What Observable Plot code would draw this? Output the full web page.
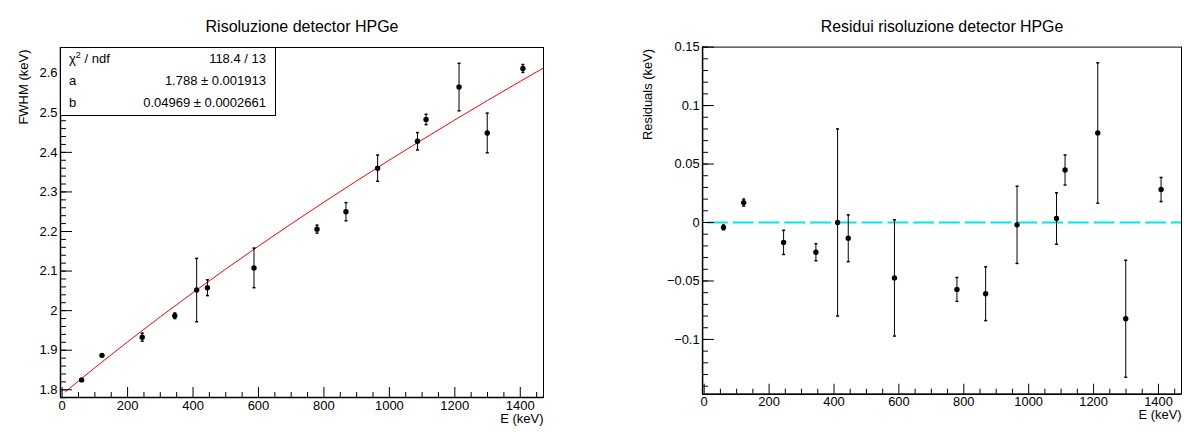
<!DOCTYPE html>
<html>
<head>
<meta charset="utf-8">
<script src="https://cdn.jsdelivr.net/npm/d3@7"></script>
<script src="https://cdn.jsdelivr.net/npm/@observablehq/plot@0.6"></script>
<style>
  html, body { margin: 0; padding: 0; overflow: hidden; background: white; }
  body { width: 1184px; height: 432px; position: relative; font-family: "Liberation Sans", Arial, sans-serif; }
  #left { position: absolute; left: 0; top: 0; }
  #right { position: absolute; left: 592px; top: 0; }
  #stats { position: absolute; left: 60px; top: 47px; width: 216px; height: 69px; border: 1px solid #000; background: #fff; font-size: 13px; color: #000; box-sizing: border-box; }
  #stats .row { position: absolute; left: 8px; right: 9px; height: 16px; line-height: 16px; }
  #stats .row .k { position: absolute; left: 0; }
  #stats .row .v { position: absolute; right: 0; }
  #stats sup { font-size: 9px; line-height: 0; vertical-align: 5px; }
</style>
</head>
<body>
<div id="left"></div>
<div id="right"></div>
<div id="stats"></div>
<script>
// ---- data ----
const energies  = [59.5, 121.8, 244.7, 344.3, 411.1, 444.0, 586.3, 778.9, 867.4, 964.1, 1085.8, 1112.1, 1212.9, 1299.1, 1408.0];
const fwhm      = [1.825, 1.887, 1.933, 1.987, 2.052, 2.058, 2.108, 2.206, 2.250, 2.360, 2.428, 2.483, 2.565, 2.449, 2.612];
const fwhmErr   = [0.002, 0.003, 0.010, 0.007, 0.080, 0.020, 0.050, 0.010, 0.023, 0.033, 0.022, 0.013, 0.060, 0.050, 0.010];
const residuals = [-0.0042, 0.017, -0.017, -0.0254, 0.0, -0.0135, -0.0474, -0.0572, -0.0609, -0.002, 0.0034, 0.0449, 0.0766, -0.0823, 0.0282];
const residErr  = [0.002, 0.003, 0.0103, 0.0073, 0.080, 0.020, 0.0497, 0.0102, 0.023, 0.033, 0.022, 0.0128, 0.060, 0.050, 0.0103];

// fit parameters (shown in the stats box): FWHM = sqrt(a^2 + b^2 E)
const fitA = 1.788, fitB = 0.04969;
const fitStats = [
  {k: "χ<sup>2</sup> / ndf", v: "118.4 / 13"},
  {k: "a", v: "1.788 ± 0.001913"},
  {k: "b", v: "0.04969 ± 0.0002661"}
];
const fitEnergies = [10, 50, 100, 150, 200, 300, 400, 500, 600, 700, 800, 900, 1000, 1100, 1200, 1300, 1400, 1470];

// ticks / labels
const xMajor = [0, 200, 400, 600, 800, 1000, 1200, 1400];
const xMinor = [50,100,150,250,300,350,450,500,550,650,700,750,850,900,950,1050,1100,1150,1250,1300,1350,1450];
const yLeftMajor = [1.8, 1.9, 2.0, 2.1, 2.2, 2.3, 2.4, 2.5, 2.6];
const yLeftMinor = d3.range(178, 267, 2).map(d => d / 100);
const yRightMajor = [-0.1, -0.05, 0, 0.05, 0.1, 0.15];
const yRightMinor = d3.range(-14, 16, 1).map(d => d / 100);

const titles = {left: "Risoluzione detector HPGe", right: "Residui risoluzione detector HPGe"};
const yTitles = {left: "FWHM (keV)", right: "Residuals (keV)"};
const xTitle = "E (keV)";

const fmt = d => { const s = String(+d.toFixed(3)); return s.replace("-", "\u2212"); };

const pointsL = energies.map((e, i) => ({E: e, y: fwhm[i], err: fwhmErr[i]}));
const pointsR = energies.map((e, i) => ({E: e, y: residuals[i], err: residErr[i]}));
const fitLine = fitEnergies.map(e => ({E: e, y: Math.sqrt(fitA * fitA + fitB * fitB * e)}));

const capSymbol = { draw(ctx) { ctx.moveTo(-1.5, 0); ctx.lineTo(1.5, 0); } };

const H = 432, MT = 47, MB = 35;
const plotH = H - MT - MB;

function panel({width, ml, mr, xDomain, yDomain, yMajor, yMinor, points, title, yTitle, yTitleDx, extra}) {
  const plotW = width - ml - mr;
  const xMin = xMinor.filter(d => d >= xDomain[0] && d <= xDomain[1]);
  return Plot.plot({
    width, height: H,
    marginLeft: ml, marginRight: mr, marginTop: MT, marginBottom: MB,
    style: {fontFamily: '"Liberation Sans", Arial, sans-serif', fontSize: "13px", color: "#000", background: "#fff", overflow: "visible"},
    x: {domain: xDomain, ticks: xMajor, tickSize: 0, tickPadding: 3, tickFormat: fmt, label: null},
    y: {domain: yDomain, ticks: yMajor, tickSize: 0, tickPadding: 3, tickFormat: fmt, label: null},
    marks: [
      ...extra,
      Plot.ruleX(points, {x: "E", y1: d => d.y - d.err, y2: d => d.y + d.err, stroke: "#000", strokeWidth: 1}),
      Plot.dot(points, {x: "E", y: d => d.y - d.err, symbol: capSymbol, stroke: "#000", fill: "none", r: 2}),
      Plot.dot(points, {x: "E", y: d => d.y + d.err, symbol: capSymbol, stroke: "#000", fill: "none", r: 2}),
      Plot.dot(points, {x: "E", y: "y", r: 2.7, fill: "#000", stroke: "none"}),
      // ticks inside the frame
      Plot.tickX(xMajor, {x: d => d, insetTop: plotH - 10, stroke: "#000"}),
      Plot.tickX(xMin, {x: d => d, insetTop: plotH - 5, stroke: "#000"}),
      Plot.tickY(yMajor, {y: d => d, insetRight: plotW - 12, stroke: "#000"}),
      Plot.tickY(yMinor, {y: d => d, insetRight: plotW - 6, stroke: "#000"}),
      Plot.frame({stroke: "#000", strokeWidth: 1}),
      Plot.ruleX([xDomain[0]], {stroke: "#000", strokeWidth: 1.5}),
      Plot.ruleY([yDomain[0]], {stroke: "#000", strokeWidth: 1.5}),
      Plot.text([title], {text: d => d, frameAnchor: "top", dy: -27, fontSize: 16}),
      Plot.text([xTitle], {text: d => d, frameAnchor: "bottom-right", textAnchor: "end", dy: 25, fontSize: 13}),
      Plot.text([yTitle], {text: d => d, frameAnchor: "top-left", rotate: -90, textAnchor: "end", dx: yTitleDx, dy: 2, fontSize: 13})
    ]
  });
}

const left = panel({
  width: 592, ml: 60, mr: 49,
  xDomain: [-5, 1471], yDomain: [1.7805, 2.665],
  yMajor: yLeftMajor, yMinor: yLeftMinor,
  points: pointsL, title: titles.left, yTitle: yTitles.left, yTitleDx: -42,
  extra: [Plot.line(fitLine, {x: "E", y: "y", stroke: "#ff0000", strokeWidth: 1})]
});
document.getElementById("left").append(left);

const right = panel({
  width: 597, ml: 111, mr: 3,
  xDomain: [-5, 1471], yDomain: [-0.1468, 0.15],
  yMajor: yRightMajor, yMinor: yRightMinor,
  points: pointsR, title: titles.right, yTitle: yTitles.right, yTitleDx: -60,
  extra: [Plot.ruleY([0], {x1: 10, x2: 1471, stroke: "#00e8e8", strokeWidth: 2, strokeDasharray: "21,5"})]
});
document.getElementById("right").append(right);

const stats = document.getElementById("stats");
fitStats.forEach((r, i) => {
  const row = document.createElement("div");
  row.className = "row";
  row.style.top = (3 + i * 22) + "px";
  row.innerHTML = `<span class="k">${r.k}</span><span class="v">${r.v}</span>`;
  stats.append(row);
});
</script>
</body>
</html>
